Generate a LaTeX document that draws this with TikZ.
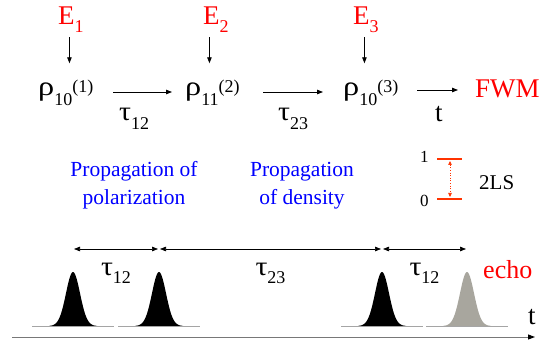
\documentclass[tikz,border=0pt]{standalone}
\usepackage{fontspec}
\usepackage{graphicx}
\setmainfont{Liberation Serif}
\usetikzlibrary{arrows.meta,positioning,calc}

\definecolor{levred}{RGB}{255,51,0}
\definecolor{echogrey}{RGB}{168,166,158}
\definecolor{basegrey}{RGB}{165,165,165}
\definecolor{axisgrey}{RGB}{120,120,120}

\newcommand\subsz{\fontsize{18}{18}\selectfont}
\newcommand\efield[1]{E\raisebox{-8pt}{\subsz #1}}
\newcommand\rhoterm[2]{\scalebox{1.2}[1]{ρ}\raisebox{-10pt}{\subsz #1}\raisebox{3pt}{\subsz(#2)}}
\newcommand\tauterm[1]{\scalebox{1.1}[1]{τ}\raisebox{-9pt}{\subsz #1}}

\begin{document}
\begin{tikzpicture}[
  x=1pt, y=-1pt,
  big/.style={inner sep=0pt, font=\fontsize{27}{27}\selectfont, anchor=base west},
  field/.style={big, text=red},
  rterm/.style={big, text width=62pt, align=left},
  prop/.style={inner sep=0pt, font=\fontsize{21.5}{28}\selectfont, text=blue, align=center, anchor=base},
  small/.style={inner sep=0pt, font=\fontsize{21}{21}\selectfont, anchor=base west},
  arr/.style={-{Triangle[length=6pt,width=4.5pt]}, line width=0.8pt},
  dbl/.style={{Triangle[length=6pt,width=4.5pt]}-{Triangle[length=6pt,width=4.5pt]}, line width=0.7pt, shorten <=1pt, shorten >=1pt},
  level/.style={levred, line width=1.6pt},
  dotarr/.style={{Triangle[length=4pt,width=3.5pt]}-{Triangle[length=4pt,width=3.5pt]}, levred, dotted, line width=0.6pt, shorten <=2pt, shorten >=2pt},
  base/.style={basegrey, line width=0.9pt},
  axis/.style={axisgrey, line width=1pt, -{Triangle[length=7pt,width=5pt,color=black]}}
]
  \useasboundingbox (0,0) rectangle (559,347);

  \node[field] (e1) at (58,25) {\efield{1}};
  \node[field] (e2) at (203,25) {\efield{2}};
  \node[field] (e3) at (353,25) {\efield{3}};
  \node[rterm] (r1) at (38,96) {\rhoterm{10}{1}};
  \node[rterm] (r2) at (185,96) {\rhoterm{11}{2}};
  \node[rterm] (r3) at (343,96) {\rhoterm{10}{3}};
  \node[field] (fwm) at (475,98) {FWM};
  \node[big] (tau12) at (119,121) {\tauterm{12}};
  \node[big] (tau23) at (278,121) {\tauterm{23}};
  \node[big] (tlab) at (435,122) {t};

  \draw[arr, shorten <=4pt, shorten >=17pt] ([xshift=-1.5pt]e1.south) -- ([xshift=-1.5pt]e1.south |- r1.north);
  \draw[arr, shorten <=4pt, shorten >=17pt] ([xshift=-6.5pt]e2.south) -- ([xshift=-6.5pt]e2.south |- r2.north);
  \draw[arr, shorten <=4pt, shorten >=17pt] ([xshift=-1.5pt]e3.south) -- ([xshift=-1.5pt]e3.south |- r3.north);
  \draw[arr, shorten <=13pt, shorten >=13pt] ([yshift=4pt]r1.base east) -- ([yshift=4pt]r2.base west);
  \draw[arr, shorten <=16pt, shorten >=20pt] ([yshift=4pt]r2.base east) -- ([yshift=4pt]r3.base west);
  \draw[arr, shorten <=12pt, shorten >=17pt] ([yshift=6pt]r3.base east) -- ([yshift=8pt]fwm.base west);

  \node[prop] (pol) at (134,205) {Propagation of\\polarization};
  \node[prop] (dens) at (302,205) {Propagation\\of density};

  \node[small, font=\fontsize{17}{17}\selectfont] (n1) at (420,163) {1};
  \node[small, font=\fontsize{17}{17}\selectfont] (n0) at (420,207) {0};
  \coordinate (l1) at (450,159);
  \coordinate (l0) at (450,199);
  \draw[level] ([xshift=-13pt]l1) -- ([xshift=12pt]l1);
  \draw[level] ([xshift=-13pt]l0) -- ([xshift=12pt]l0);
  \draw[dotarr] (l1) -- (l0);
  \node[small] (tls) at (479,190) {2LS};

  \coordinate (a1) at (73,249);
  \coordinate (a2) at (159,249);
  \coordinate (a3) at (382,249);
  \coordinate (a4) at (467,249);
  \draw[dbl] (a1) -- (a2);
  \draw[dbl] (a2) -- (a3);
  \draw[dbl] (a3) -- (a4);
  \node[big, anchor=base] (d12) at ($(a1)!.5!(a2)+(0,26)$) {\tauterm{12}};
  \node[big, anchor=base] (d23) at ($(a2)!.5!(a3)+(0,26)$) {\tauterm{23}};
  \node[big, anchor=base] (d34) at ($(a3)!.5!(a4)+(0,26)$) {\tauterm{12}};
  \node[big, text=red, font=\fontsize{26}{26}\selectfont] (echo) at (483,278) {echo};

  \foreach \px/\col in {73/black,159/black,382/black,467/echogrey} {
    \draw[base] (\px-41,326) -- (\px+41,326);
    \fill[\col] plot[domain=-24:24, samples=60] ({\px+\x},{326-54*exp(-((\x)*(\x))/98)}) -- cycle;
  }

  \coordinate (ax0) at (12,337);
  \coordinate (ax1) at (535,337);
  \draw[axis] (ax0) -- (ax1);
  \node[big] (tax) at (528,324) {t};
\end{tikzpicture}
\end{document}
